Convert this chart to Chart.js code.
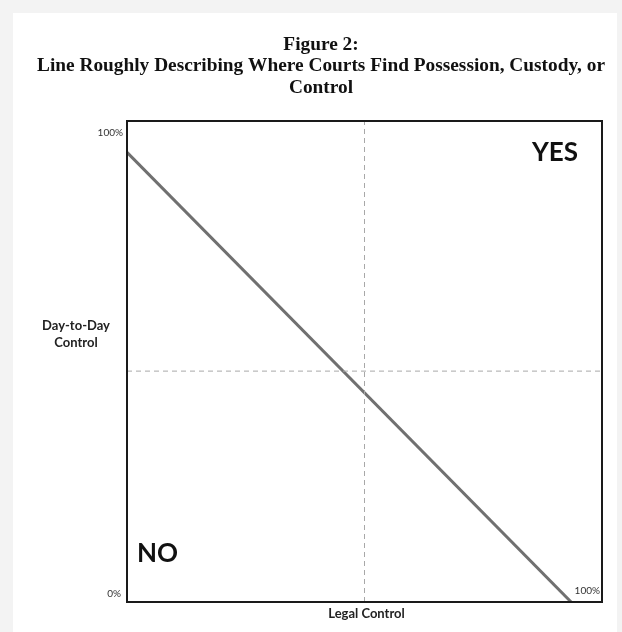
<!DOCTYPE html>
<html>
<head>
<meta charset="utf-8">
<script src="https://cdn.jsdelivr.net/npm/chart.js@4.4.1/dist/chart.umd.min.js"></script>
<style>
  html, body { margin: 0; padding: 0; background: #f3f3f3; }
  #card { position: absolute; left: 13px; top: 13px; right: 5px; bottom: 0; background: #fff; }
  #wrap { position: absolute; left: 0; top: 0; width: 622px; height: 632px; }
</style>
</head>
<body>
<div id="card"></div>
<div id="wrap"><canvas id="chart"></canvas></div>
<script>
// ============================================
// Data
// ============================================

const titleLines = ['Figure 2:', 'Line Roughly Describing Where Courts Find Possession, Custody, or', 'Control'];
const xAxisLabel = 'Legal Control';
const yAxisLabel = ['Day-to-Day', 'Control'];

// boundary line (legal control %, day-to-day control %)
const boundaryX = [0, 93.5];
const boundaryY = [93.5, 0];

// dashed reference lines
const midLegal = 50;
const midDaily = 48;

const axisMin = 0;
const axisMax = 100;

// ============================================
// Plugins
// ============================================

const frameAndText = {
  id: 'frameAndText',
  afterDraw(chart) {
    const { ctx, chartArea: a, scales } = chart;
    const x = scales.x, y = scales.y;
    ctx.save();

    // plot frame
    ctx.strokeStyle = '#1a1a1a';
    ctx.lineWidth = 2;
    ctx.strokeRect(a.left, a.top, a.right - a.left, a.bottom - a.top);

    // title (the source figure is slightly stretched sideways)
    ctx.fillStyle = '#111';
    ctx.textAlign = 'center';
    ctx.textBaseline = 'middle';
    ctx.font = 'bold 18px "Liberation Serif", "Times New Roman", serif';
    const sx = 568 / ctx.measureText(titleLines[1]).width;
    ctx.save();
    ctx.translate(321, 0);
    ctx.scale(sx, 1);
    titleLines.forEach((t, i) => ctx.fillText(t, 0, 45 + i * 21.5));
    ctx.restore();

    // corner percentages
    ctx.font = '10px Lato, "Liberation Sans", sans-serif';
    ctx.fillStyle = '#333';
    ctx.textAlign = 'right';
    ctx.fillText(axisMax + '%', x.getPixelForValue(axisMin) - 4, y.getPixelForValue(axisMax) + 12);
    ctx.fillText(axisMin + '%', x.getPixelForValue(axisMin) - 6, y.getPixelForValue(axisMin) - 8);
    ctx.fillText(axisMax + '%', x.getPixelForValue(axisMax) - 2, y.getPixelForValue(axisMin) - 11);

    // axis titles
    ctx.font = 'bold 13px Lato, "Liberation Sans", sans-serif';
    ctx.fillStyle = '#222';
    ctx.textAlign = 'center';
    ctx.fillText(xAxisLabel, x.getPixelForValue(midLegal) + 2, a.bottom + 12);
    yAxisLabel.forEach((t, i) => ctx.fillText(t, 76, 326 + i * 17));

    // region labels
    ctx.font = 'bold 26px Lato, "Liberation Sans", sans-serif';
    ctx.fillStyle = '#111';
    ctx.textAlign = 'right';
    ctx.fillText('YES', a.right - 24, a.top + 32);
    ctx.textAlign = 'left';
    ctx.fillText('NO', a.left + 10, a.bottom - 48);

    ctx.restore();
  }
};

// ============================================
// Chart
// ============================================

const ctx = document.getElementById('chart');

new Chart(ctx, {
  type: 'scatter',
  data: {
    datasets: [
      {
        label: 'Legal midpoint',
        data: [{ x: midLegal, y: axisMin }, { x: midLegal, y: axisMax }],
        showLine: true,
        borderColor: '#a8a8a8',
        borderWidth: 1,
        borderDash: [5, 4],
        pointRadius: 0
      },
      {
        label: 'Daily midpoint',
        data: [{ x: axisMin, y: midDaily }, { x: axisMax, y: midDaily }],
        showLine: true,
        borderColor: '#a8a8a8',
        borderWidth: 1,
        borderDash: [5, 4],
        pointRadius: 0
      },
      {
        label: 'Boundary',
        data: boundaryX.map((v, i) => ({ x: v, y: boundaryY[i] })),
        showLine: true,
        borderColor: '#707070',
        borderWidth: 3,
        pointRadius: 0
      }
    ]
  },
  options: {
    responsive: true,
    maintainAspectRatio: false,
    animation: false,
    layout: {
      padding: { left: 127, right: 20, top: 121, bottom: 30 }
    },
    plugins: {
      legend: { display: false },
      tooltip: { enabled: false }
    },
    scales: {
      x: { type: 'linear', min: axisMin, max: axisMax, display: false },
      y: { type: 'linear', min: axisMin, max: axisMax, display: false }
    }
  },
  plugins: [frameAndText]
});
</script>
</body>
</html>
